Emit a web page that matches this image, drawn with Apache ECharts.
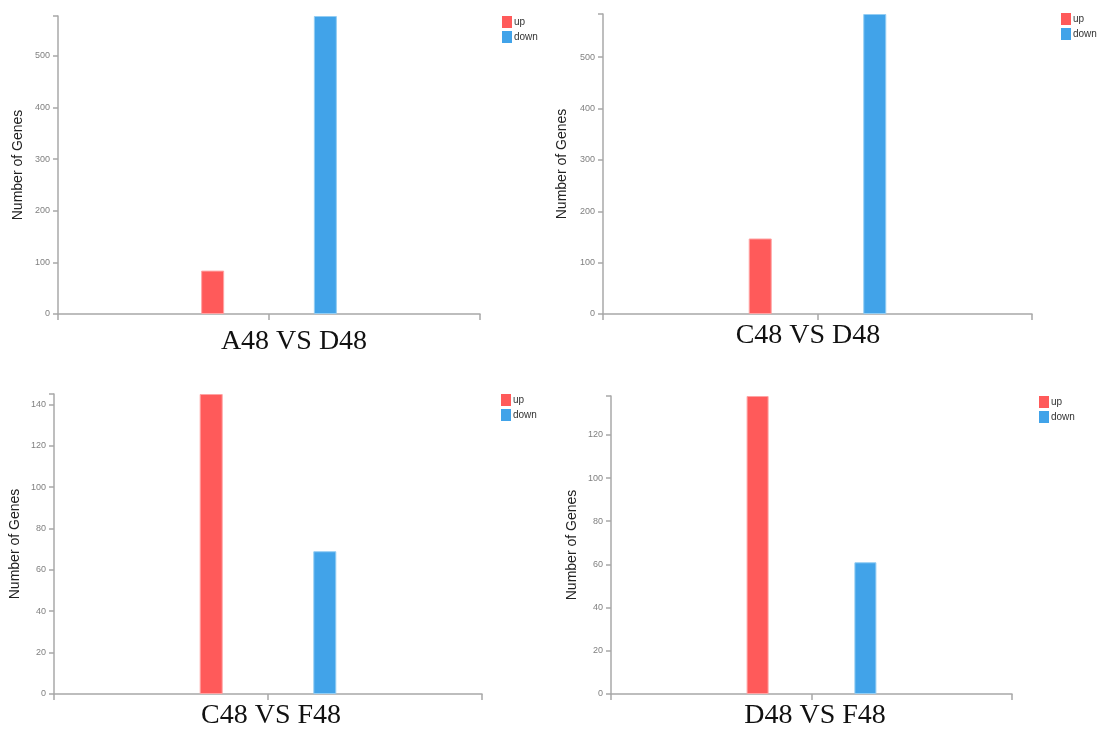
<!DOCTYPE html>
<html>
<head>
<meta charset="utf-8">
<script src="https://cdn.jsdelivr.net/npm/echarts@6/dist/echarts.min.js"></script>
<style>
  html, body { margin: 0; padding: 0; background: #fff; }
  #chart { width: 1099px; height: 732px; }
</style>
</head>
<body>
<div id="chart"></div>
<script>
// ---- data ----
const comparisons = ['A48 VS D48', 'C48 VS D48', 'C48 VS F48', 'D48 VS F48'];
const seriesNames = ['up', 'down'];
const upCounts = [84, 147, 145, 138];
const downCounts = [577, 584, 69, 61];
const yTickSteps = [100, 100, 20, 20];
const yAxisTitle = 'Number of Genes';

// ---- layout (positions / sizes only) ----
const layout = [
  { grid: { left: 58, top: 16, width: 422, height: 298 }, barW: 23, gap: '390%', legend: { left: 502, top: 16 }, nameGap: 33, title: { left: 294, top: 328 } },
  { grid: { left: 603, top: 14, width: 429, height: 300 }, barW: 23, gap: '398%', legend: { left: 1061, top: 13 }, nameGap: 34, title: { left: 808, top: 322 } },
  { grid: { left: 54, top: 394, width: 428, height: 300 }, barW: 23, gap: '394%', legend: { left: 501, top: 394 }, nameGap: 32, title: { left: 271, top: 702 } },
  { grid: { left: 611, top: 396, width: 401, height: 298 }, barW: 22, gap: '390%', legend: { left: 1039, top: 396 }, nameGap: 32, title: { left: 815, top: 702 } }
];

const colors = { up: '#ff5a5a', down: '#41a3e9' };
const borders = { up: '#ffa3a3', down: '#93cdf3' };
const axisColor = '#a8a8a8';
const sansFont = 'Arial, "Liberation Sans", sans-serif';
const serifFont = '"Times New Roman", "Liberation Serif", serif';

const grid = [], xAxis = [], yAxis = [], yAxisEnds = [], series = [], legend = [], title = [];

comparisons.forEach((name, i) => {
  const L = layout[i];
  const yMax = Math.max(upCounts[i], downCounts[i]);
  grid.push(Object.assign({ containLabel: false }, L.grid));

  // main category axis (tick at the category centre)
  xAxis.push({
    type: 'category', gridIndex: i, data: [name],
    axisLine: { show: true, lineStyle: { color: axisColor, width: 1.5 } },
    axisTick: { show: true, alignWithLabel: true, length: 6, lineStyle: { color: axisColor, width: 1.5 } },
    axisLabel: { show: false }, splitLine: { show: false }
  });
  // overlay axis providing the end ticks at both domain ends
  xAxis.push({
    type: 'category', gridIndex: i, data: [name], position: 'bottom',
    axisLine: { show: false },
    axisTick: { show: true, length: 6, lineStyle: { color: axisColor, width: 1.5 } },
    axisLabel: { show: false }, splitLine: { show: false }
  });

  yAxis.push({
    type: 'value', gridIndex: i, min: 0, max: yMax,
    interval: yTickSteps[i],
    name: yAxisTitle, nameLocation: 'middle', nameGap: L.nameGap,
    nameTextStyle: { fontFamily: sansFont, fontSize: 14, color: '#222' },
    axisLine: { show: true, lineStyle: { color: axisColor, width: 1.5 } },
    axisTick: { show: true, length: 5, lineStyle: { color: axisColor, width: 1.5 } },
    axisLabel: { showMaxLabel: false, fontFamily: sansFont, fontSize: 9, color: '#808080', margin: 8 },
    splitLine: { show: false }
  });
  // overlay axis giving the end tick at the top of the domain
  yAxisEnds.push({
    type: 'value', gridIndex: i, min: 0, max: yMax, interval: yMax, position: 'left',
    axisLine: { show: false },
    axisTick: { show: true, length: 5, lineStyle: { color: axisColor, width: 1.5 } },
    axisLabel: { show: false }, splitLine: { show: false }
  });

  const vals = { up: upCounts[i], down: downCounts[i] };
  seriesNames.forEach((s) => {
    series.push({
      name: s, type: 'bar', xAxisIndex: 2 * i, yAxisIndex: i,
      data: [vals[s]], barWidth: L.barW, barGap: L.gap,
      itemStyle: { color: colors[s], borderColor: borders[s], borderWidth: 1 },
      animation: false
    });
  });

  legend.push({
    data: seriesNames, orient: 'vertical', left: L.legend.left, top: L.legend.top,
    padding: 0, itemWidth: 10, itemHeight: 12, itemGap: 3, icon: 'rect',
    itemStyle: { borderWidth: 0 },
    textStyle: { fontFamily: sansFont, fontSize: 10, color: '#333', padding: [0, 0, 0, -3] }
  });

  title.push({
    text: name, left: L.title.left, top: L.title.top, textAlign: 'center', padding: 0,
    textStyle: { fontFamily: serifFont, fontSize: 28, fontWeight: 'normal', color: '#111' }
  });
});

const chart = echarts.init(document.getElementById('chart'), null, { renderer: 'canvas' });
chart.setOption({
  backgroundColor: '#fff',
  animation: false,
  title, grid, xAxis, yAxis: yAxis.concat(yAxisEnds), series, legend,
  tooltip: { show: false }
});
</script>
</body>
</html>
